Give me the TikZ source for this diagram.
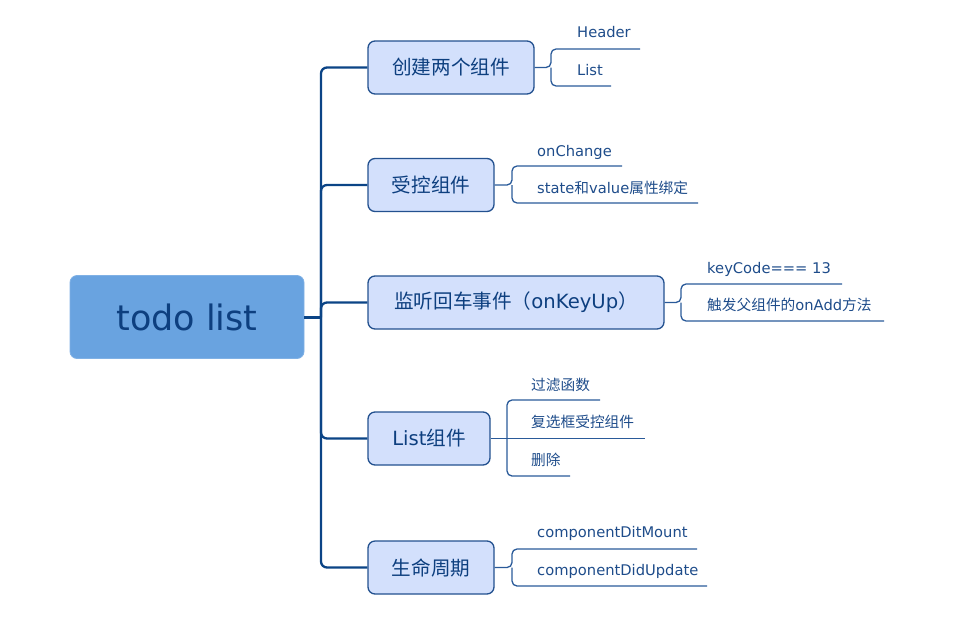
\documentclass[tikz,border=0pt]{standalone}
\usepackage{fontspec}
\setmainfont{DejaVu Sans}
\newfontfamily\cjk{Noto Sans CJK SC}
\definecolor{rootfill}{HTML}{69A3E0}
\definecolor{roottext}{HTML}{0D3F7F}
\definecolor{boxfill}{HTML}{D3E0FC}
\definecolor{boxline}{HTML}{23518F}
\definecolor{trunkc}{HTML}{0B4486}
\definecolor{subc}{HTML}{2A5A99}
\definecolor{leaftext}{HTML}{1E4C8A}
\tikzset{
  rootbox/.style={draw=rootfill!85!white, fill=rootfill, rounded corners=7pt, line width=0.8pt,
    text=roottext, font=\fontsize{35}{40}\selectfont, inner sep=0pt},
  topic/.style={draw=boxline, fill=boxfill, rounded corners=7pt, line width=1.3pt,
    text=roottext, font=\fontsize{19.6}{23}\selectfont, inner sep=0pt, minimum height=53pt},
  leaf/.style={anchor=west, inner sep=0pt, text=leaftext, font=\fontsize{14.7}{17}\selectfont,
    text height=10.5pt, text depth=3pt},
  trunk/.style={draw=trunkc, line width=2.3pt, rounded corners=6pt},
  sub/.style={draw=subc, line width=1.3pt, rounded corners=5pt},
}
\begin{document}
\begin{tikzpicture}[x=1pt,y=-1pt]
\useasboundingbox (0,0) rectangle (965,624);
% root
\node[rootbox, minimum width=234pt, minimum height=83pt] (root) at (187,317) {todo list};
% topics
\node[topic, minimum width=166pt] (b1) at (451,67.5) {{\cjk 创建两个组件}};
\node[topic, minimum width=126pt] (b2) at (431,185) {{\cjk 受控组件}};
\node[topic, minimum width=296pt] (b3) at (516,302.5) {{\cjk 监听回车事件（}onKeyUp{\cjk ）}};
\node[topic, minimum width=122pt] (b4) at (429,438.5) {List{\cjk 组件}};
\node[topic, minimum width=126pt] (b5) at (431,567.5) {{\cjk 生命周期}};
% trunk
\coordinate (tj) at (321,317);
\draw[draw=trunkc, line width=3pt] (root.east) -- (tj);
\foreach \b in {b1,b2,b3,b4,b5}{
  \draw[trunk] (tj) |- (\b.west);
}
% leaves
\node[leaf] (h1) at (577,34) {Header};
\node[leaf] (l1) at (577,72) {List};
\coordinate (h1e) at (640,49);
\coordinate (l1e) at (611,86);
\coordinate (j1) at (551,67.5);
\draw[sub] (b1.east) -- (j1) |- (h1e);
\draw[sub] (j1) |- (l1e);

\node[leaf] (oc) at (537,153) {onChange};
\node[leaf] (st) at (537,190) {state{\cjk 和}value{\cjk 属性绑定}};
\coordinate (oce) at (622,166);
\coordinate (ste) at (698,203);
\coordinate (j2) at (512,185);
\draw[sub] (b2.east) -- (j2) |- (oce);
\draw[sub] (j2) |- (ste);

\node[leaf] (kc) at (707,270) {keyCode=== 13};
\node[leaf] (tr) at (707,307) {{\cjk 触发父组件的}onAdd{\cjk 方法}};
\coordinate (kce) at (842,284);
\coordinate (tre) at (884,321);
\coordinate (j3) at (681,302.5);
\draw[sub] (b3.east) -- (j3) |- (kce);
\draw[sub] (j3) |- (tre);

\node[leaf] (f1) at (531,387) {{\cjk 过滤函数}};
\node[leaf] (f2) at (531,424) {{\cjk 复选框受控组件}};
\node[leaf] (f3) at (531,462) {{\cjk 删除}};
\coordinate (f1e) at (600,400);
\coordinate (f2e) at (645,438.5);
\coordinate (f3e) at (570,476);
\coordinate (j4) at (507,438.5);
\draw[sub] (b4.east) -- (f2e);
\draw[sub] (j4) |- (f1e);
\draw[sub] (j4) |- (f3e);

\node[leaf] (cm) at (537,534) {componentDitMount};
\node[leaf] (cu) at (537,572) {componentDidUpdate};
\coordinate (cme) at (697,549);
\coordinate (cue) at (707,586);
\coordinate (j5) at (512,567.5);
\draw[sub] (b5.east) -- (j5) |- (cme);
\draw[sub] (j5) |- (cue);
\end{tikzpicture}
\end{document}
